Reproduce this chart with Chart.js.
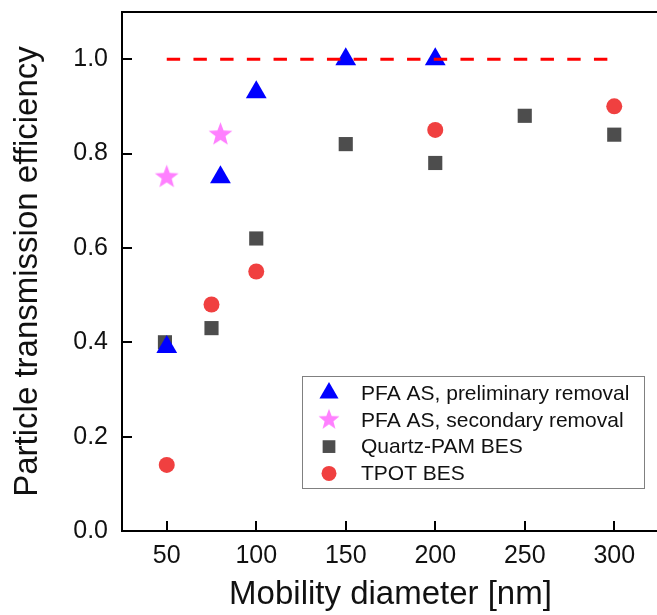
<!DOCTYPE html>
<html lang="en">
<head>
    <meta charset="UTF-8">
    <title>Particle transmission efficiency</title>
    <script src="https://cdn.jsdelivr.net/npm/chart.js"></script>
    <style>
        body { margin: 0; overflow: hidden; background: #fff; }
    </style>
</head>
<body>
    <canvas id="chart" width="660" height="615"></canvas>
    <script>
        // values
        const prelimX = [50, 80, 100, 150, 200];
        const prelimY = [0.39, 0.75, 0.93, 1.0, 1.0];
        const secondX = [50, 80];
        const secondY = [0.75, 0.84];
        const quartzX = [49, 75, 100, 150, 200, 250, 300];
        const quartzY = [0.40, 0.43, 0.62, 0.82, 0.78, 0.88, 0.84];
        const tpotX = [50, 75, 100, 200, 300];
        const tpotY = [0.14, 0.48, 0.55, 0.85, 0.90];
        const refX = [50, 300];
        const refY = [1.0, 1.0];

        const xTicks = [50, 100, 150, 200, 250, 300];
        const yTicks = [0.0, 0.2, 0.4, 0.6, 0.8, 1.0];

        const toPoints = (xs, ys) => xs.map((x, i) => ({ x: x, y: ys[i] }));

        // filled five point star (chart.js 'star' is only an asterisk)
        function makeStar(r, color) {
            const s = Math.ceil(r * 2) + 2;
            const c = document.createElement('canvas');
            c.width = s; c.height = s;
            const g = c.getContext('2d');
            g.fillStyle = color;
            g.beginPath();
            for (let i = 0; i < 10; i++) {
                const rad = i % 2 === 0 ? r : r * 0.42;
                const a = -Math.PI / 2 + i * Math.PI / 5;
                g.lineTo(s / 2 + rad * Math.cos(a), s / 2 + rad * Math.sin(a));
            }
            g.closePath();
            g.fill();
            return c;
        }

        const pink = '#ff80ff';
        const starPlot = makeStar(12.5, pink);
        const starLegend = makeStar(11, pink);

        Chart.defaults.font.family = "'Liberation Sans', Arial, sans-serif";
        Chart.defaults.color = '#111';

        // legend drawn as a box inside the plot, lower right
        const boxLegend = {
            id: 'boxLegend',
            afterDraw(chart) {
                const ctx = chart.ctx;
                const items = chart.data.datasets.filter(d => d.inLegend);
                ctx.save();
                ctx.fillStyle = '#fff';
                ctx.fillRect(302, 376, 342, 112);
                ctx.strokeStyle = '#808080';
                ctx.lineWidth = 1;
                ctx.strokeRect(302.5, 376.5, 342, 112);
                ctx.font = "21px 'Liberation Sans', Arial, sans-serif";
                ctx.textBaseline = 'middle';
                items.forEach((d, i) => {
                    const y = 393 + i * 26.8;
                    ctx.fillStyle = d.backgroundColor;
                    Chart.helpers.drawPoint(ctx, {
                        pointStyle: d.legendStyle || d.pointStyle,
                        radius: d.legendRadius,
                        rotation: 0,
                        borderWidth: 0
                    }, 329, y);
                    ctx.fillStyle = '#111';
                    ctx.fillText(d.label, 361, y + 1);
                });
                ctx.restore();
            }
        };

        const axisGrid = {
            display: true,
            drawOnChartArea: false,
            drawTicks: true,
            tickLength: -10,
            color: '#000',
            lineWidth: 2
        };

        // fixed axis sizes, no extra room for overhanging labels
        const fixBox = (w, h) => scale => {
            if (w !== null) scale.width = w;
            if (h !== null) scale.height = h;
            scale.paddingTop = 0;
            scale.paddingBottom = 0;
            scale.paddingLeft = 0;
            scale.paddingRight = 0;
        };

        new Chart(document.getElementById('chart'), {
            type: 'scatter',
            data: {
                datasets: [
                    {
                        label: 'PFA AS, preliminary removal',
                        data: toPoints(prelimX, prelimY),
                        pointStyle: 'triangle',
                        pointRadius: 12,
                        legendRadius: 11,
                        backgroundColor: '#0000ff',
                        borderWidth: 0,
                        inLegend: true
                    },
                    {
                        label: 'PFA AS, secondary removal',
                        data: toPoints(secondX, secondY),
                        pointStyle: starPlot,
                        legendStyle: starLegend,
                        pointRadius: 12,
                        legendRadius: 11,
                        backgroundColor: pink,
                        borderWidth: 0,
                        inLegend: true
                    },
                    {
                        label: 'Quartz-PAM BES',
                        data: toPoints(quartzX, quartzY),
                        pointStyle: 'rect',
                        pointRadius: 10,
                        legendRadius: 9,
                        backgroundColor: '#4d4d4d',
                        borderWidth: 0,
                        inLegend: true
                    },
                    {
                        label: 'TPOT BES',
                        data: toPoints(tpotX, tpotY),
                        pointStyle: 'circle',
                        pointRadius: 8,
                        legendRadius: 7.5,
                        backgroundColor: '#f04040',
                        borderWidth: 0,
                        inLegend: true
                    },
                    {
                        type: 'line',
                        label: 'reference',
                        data: toPoints(refX, refY),
                        borderColor: '#ff0000',
                        borderWidth: 3,
                        borderDash: [13.4, 13.3],
                        pointRadius: 0,
                        fill: false,
                        order: -1
                    }
                ]
            },
            options: {
                responsive: false,
                animation: false,
                events: [],
                layout: { autoPadding: false, padding: { top: 12, right: 1, left: 0, bottom: 0 } },
                plugins: {
                    legend: { display: false },
                    tooltip: { enabled: false }
                },
                scales: {
                    x: {
                        type: 'linear',
                        position: 'bottom',
                        min: 25,
                        max: 325,
                        afterBuildTicks: scale => { scale.ticks = xTicks.map(v => ({ value: v })); },
                        afterFit: fixBox(null, 84),
                        grid: axisGrid,
                        border: { display: true, color: '#000', width: 2 },
                        ticks: { padding: 20, font: { size: 25 }, color: '#111' },
                        title: {
                            display: true,
                            text: 'Mobility diameter [nm]',
                            font: { size: 33 },
                            color: '#111',
                            padding: { top: 0, bottom: 0 }
                        }
                    },
                    xTop: {
                        type: 'linear',
                        position: 'top',
                        min: 25,
                        max: 325,
                        afterFit: fixBox(null, 0),
                        grid: { display: false, drawOnChartArea: false, drawTicks: false },
                        border: { display: true, color: '#000', width: 2 },
                        ticks: { display: false }
                    },
                    y: {
                        type: 'linear',
                        min: 0,
                        max: 1.1,
                        afterBuildTicks: scale => { scale.ticks = yTicks.map(v => ({ value: v })); },
                        afterFit: fixBox(122, null),
                        grid: axisGrid,
                        border: { display: true, color: '#000', width: 2 },
                        ticks: {
                            padding: 24,
                            font: { size: 25 },
                            color: '#111',
                            callback: v => v.toFixed(1)
                        },
                        title: {
                            display: true,
                            text: 'Particle transmission efficiency',
                            font: { size: 33 },
                            color: '#111',
                            padding: { top: 8, bottom: 0 }
                        }
                    }
                }
            },
            plugins: [boxLegend]
        });
    </script>
</body>
</html>
